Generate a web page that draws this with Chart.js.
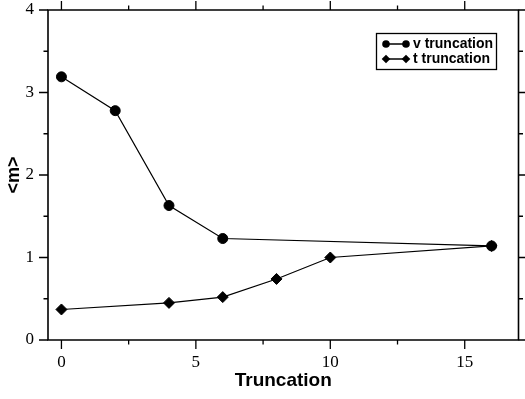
<!DOCTYPE html>
<html>
<head>
<meta charset="utf-8">
<script src="https://cdn.jsdelivr.net/npm/chart.js@4/dist/chart.umd.min.js"></script>
<style>
  html, body { margin: 0; padding: 0; background: #fff; }
  #wrap { width: 525px; height: 399px; }
</style>
</head>
<body>
<div id="wrap"><canvas id="c" width="525" height="399"></canvas></div>
<script>
// Mean <m> against truncation level, for the two truncation schemes
const vTruncation = [0, 2, 4, 6, 16];
const vValues     = [3.19, 2.78, 1.63, 1.23, 1.14];
const tTruncation = [0, 4, 6, 8, 10, 16];
const tValues     = [0.37, 0.45, 0.52, 0.74, 1.00, 1.14];

const xMajorTicks = [0, 5, 10, 15];
const xMinorTicks = [2.5, 7.5, 12.5];
const yMajorTicks = [0, 1, 2, 3, 4];
const yMinorTicks = [0.5, 1.5, 2.5, 3.5];

const seriesLabels = ['v truncation', 't truncation'];

const toPoints = (xs, ys) => xs.map((x, i) => ({ x: x, y: ys[i] }));

// Frame with outward ticks on all four sides
const framePlugin = {
  id: 'frame',
  afterDatasetsDraw(chart) {
    const { ctx, chartArea: a, scales } = chart;
    const xs = scales.x, ys = scales.y;
    const major = 9, minor = 4.5;
    ctx.save();
    ctx.strokeStyle = '#000';
    ctx.lineWidth = 1.6;
    ctx.lineCap = 'butt';
    ctx.beginPath();
    ctx.rect(a.left, a.top, a.right - a.left, a.bottom - a.top);
    ctx.stroke();
    ctx.lineWidth = 1.3;
    ctx.beginPath();
    const vTick = (v, len) => {
      const px = xs.getPixelForValue(v);
      ctx.moveTo(px, a.bottom); ctx.lineTo(px, a.bottom + len);
      ctx.moveTo(px, a.top);    ctx.lineTo(px, a.top - len);
    };
    const hTick = (v, len) => {
      const py = ys.getPixelForValue(v);
      ctx.moveTo(a.left, py);  ctx.lineTo(a.left - len, py);
      ctx.moveTo(a.right, py); ctx.lineTo(a.right + len, py);
    };
    xMajorTicks.forEach(v => vTick(v, major));
    xMinorTicks.forEach(v => vTick(v, minor));
    yMajorTicks.forEach(v => hTick(v, major));
    yMinorTicks.forEach(v => hTick(v, minor));
    ctx.stroke();
    ctx.restore();
  }
};

// Boxed legend in the upper right
const boxLegendPlugin = {
  id: 'boxLegend',
  afterDraw(chart) {
    const { ctx } = chart;
    const left = 376, top = 33, right = 497, bottom = 70;
    const rows = [44, 59];
    ctx.save();
    ctx.fillStyle = '#fff';
    ctx.fillRect(left, top, right - left, bottom - top);
    ctx.strokeStyle = '#000';
    ctx.lineWidth = 1.3;
    ctx.strokeRect(left + 0.5, top + 0.5, right - left - 1, bottom - top - 1);
    chart.data.datasets.forEach((ds, i) => {
      const y = rows[i];
      const x1 = 386, x2 = 406;
      ctx.strokeStyle = '#000';
      ctx.lineWidth = 1.5;
      ctx.beginPath();
      ctx.moveTo(x1, y); ctx.lineTo(x2, y);
      ctx.stroke();
      ctx.fillStyle = '#000';
      [x1, x2].forEach(x => {
        ctx.beginPath();
        if (ds.pointStyle === 'circle') {
          ctx.arc(x, y, 3.8, 0, Math.PI * 2);
        } else {
          const r = 4.3;
          ctx.moveTo(x, y - r); ctx.lineTo(x + r, y);
          ctx.lineTo(x, y + r); ctx.lineTo(x - r, y);
          ctx.closePath();
        }
        ctx.fill();
      });
      ctx.font = 'bold 14px "Liberation Sans", Arial, sans-serif';
      ctx.textBaseline = 'middle';
      ctx.textAlign = 'left';
      ctx.fillText(ds.label, 413, y + 0.5);
    });
    ctx.restore();
  }
};

const tickFont = { family: '"Liberation Serif", "Times New Roman", serif', size: 17 };
const titleFont = { family: '"Liberation Sans", Arial, sans-serif', size: 19, weight: 'bold' };

new Chart(document.getElementById('c'), {
  type: 'line',
  data: {
    datasets: [
      {
        label: seriesLabels[0],
        data: toPoints(vTruncation, vValues),
        borderColor: '#000',
        backgroundColor: '#000',
        borderWidth: 1.2,
        pointStyle: 'circle',
        pointRadius: 5,
        pointBorderWidth: 1,
        tension: 0
      },
      {
        label: seriesLabels[1],
        data: toPoints(tTruncation, tValues),
        borderColor: '#000',
        backgroundColor: '#000',
        borderWidth: 1.2,
        pointStyle: 'rectRot',
        pointRadius: 5.5,
        pointBorderWidth: 1,
        tension: 0
      }
    ]
  },
  options: {
    responsive: false,
    animation: false,
    layout: { padding: { top: 10, right: 5, left: 0, bottom: 0 } },
    plugins: {
      legend: { display: false },
      tooltip: { enabled: false }
    },
    scales: {
      x: {
        type: 'linear',
        min: -0.5,
        max: 17,
        afterBuildTicks: s => { s.ticks = xMajorTicks.map(v => ({ value: v })); },
        afterFit: s => { s.height = 59; s.paddingLeft = 0; s.paddingRight = 0; },
        grid: { display: false, drawTicks: false },
        border: { display: false },
        ticks: { font: tickFont, color: '#000', padding: 12, maxRotation: 0 },
        title: { display: true, text: 'Truncation', font: titleFont, color: '#000', padding: { top: 0, bottom: 7 } }
      },
      y: {
        min: 0,
        max: 4,
        afterBuildTicks: s => { s.ticks = yMajorTicks.map(v => ({ value: v })); },
        afterFit: s => { s.width = 48; s.paddingTop = 0; s.paddingBottom = 0; },
        grid: { display: false, drawTicks: false },
        border: { display: false },
        ticks: { font: tickFont, color: '#000', padding: 14 },
        title: { display: true, text: '<m>', font: { family: titleFont.family, size: 18, weight: 'bold' }, color: '#000', padding: { top: 3, bottom: 0 } }
      }
    }
  },
  plugins: [framePlugin, boxLegendPlugin]
});
</script>
</body>
</html>
